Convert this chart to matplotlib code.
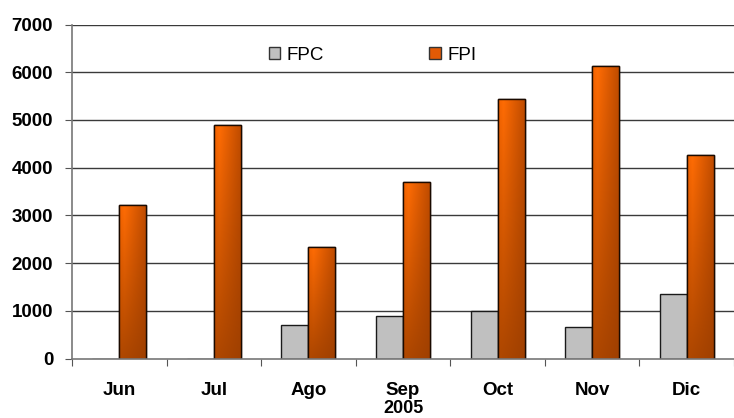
import numpy as np
import matplotlib
matplotlib.use("Agg")
import matplotlib.pyplot as plt

plt.rcParams['font.family'] = ['Liberation Sans', 'DejaVu Sans']

months = ["Jun", "Jul", "Ago", "Sep", "Oct", "Nov", "Dic"]
fpc = [0, 0, 700, 900, 1000, 670, 1345]
fpi = [3220, 4900, 2330, 3700, 5440, 6130, 4260]
yticks = [0, 1000, 2000, 3000, 4000, 5000, 6000, 7000]

fig = plt.figure(figsize=(7.34, 4.18), dpi=100)
ax = fig.add_axes([72 / 734, 1 - 358.5 / 418, 1 - 72 / 734, (358.5 - 24.5) / 418])

x = np.arange(len(months))
w = 0.285

for y in yticks[1:]:
    ax.axhline(y, color="#3a3a3a", lw=1.0, zorder=1)

bars_c = ax.bar(x - w / 2, fpc, width=w, color="#c0c0c0", edgecolor="#1a1a1a",
                lw=1.0, zorder=3, label="FPC")
bars_i = ax.bar(x + w / 2, fpi, width=w, color="#e35a05", edgecolor="#1a0a00",
                lw=1.0, zorder=3, label="FPI")

# shaded fill for the FPI columns: bright orange at the top left, brown at the bottom
def shade(nx=64, ny=64):
    hx = np.linspace(0, 1, nx)
    top_l = np.array([0xf0, 0x62, 0x00]) / 255
    top_hi = np.array([0xff, 0x6c, 0x04]) / 255
    top_r = np.array([0xc0, 0x4c, 0x00]) / 255
    bot_l = np.array([0xb0, 0x48, 0x00]) / 255
    bot_r = np.array([0xa0, 0x40, 0x00]) / 255
    top = np.where(hx[:, None] < 0.2,
                   top_l + (top_hi - top_l) * (hx[:, None] / 0.2),
                   top_hi + (top_r - top_hi) * ((hx[:, None] - 0.2) / 0.8))
    bot = bot_l + (bot_r - bot_l) * hx[:, None]
    t = np.linspace(0, 1, ny)[:, None, None]  # 0 bottom, 1 top
    return bot[None] * (1 - t) + top[None] * t

img = np.clip(shade(), 0, 1)
for b in bars_i:
    x0, y0 = b.get_x(), b.get_y()
    bw, bh = b.get_width(), b.get_height()
    im = ax.imshow(img, extent=[x0, x0 + bw, y0, y0 + bh], origin="lower",
                   aspect="auto", zorder=3.5, interpolation="bilinear")
    im.set_clip_path(b)
    ax.add_patch(plt.Rectangle((x0, y0), bw, bh, fill=False, ec="#1a0a00",
                               lw=1.0, zorder=4))
ax.set_aspect("auto")
ax.set_xlim(-0.5, len(months) - 0.5)
ax.set_ylim(0, 7000)

ax.set_yticks(yticks)
ax.set_yticklabels([str(v) for v in yticks], fontsize=13.5, fontweight="bold")
ax.set_xticks(np.arange(-0.5, len(months) + 0.5, 1.0))
ax.set_xticklabels([])
ax.set_xticks(x, minor=True)
ax.set_xticklabels(months, minor=True, fontsize=13.5, fontweight="bold")
ax.tick_params(axis="x", which="major", length=5, color="#555555", direction="out")
ax.tick_params(axis="x", which="minor", length=0, pad=17)
ax.tick_params(axis="y", length=5, color="#555555", pad=8.5)
ax.set_xlabel("2005", fontsize=13, fontweight="bold", labelpad=0.5)

for s in ["top", "right"]:
    ax.spines[s].set_visible(False)
for s in ["left", "bottom"]:
    ax.spines[s].set_color("#777777")
    ax.spines[s].set_linewidth(1.2)
    ax.spines[s].set_zorder(5)

leg = ax.legend(handles=[bars_c, bars_i], loc="upper left",
                bbox_to_anchor=((265 - 72) / 662, 1 - (43 - 24.5) / 334),
                ncol=2, frameon=True, fontsize=13.5, handlelength=0.62,
                handleheight=0.62, handletextpad=0.35, columnspacing=5.6,
                borderpad=0.2, borderaxespad=0)
leg.get_frame().set_facecolor("white")
leg.get_frame().set_edgecolor("none")
leg.get_frame().set_alpha(1)
leg.set_zorder(6)
for h in leg.legend_handles:
    h.set_edgecolor("#333333")

fig.savefig("out.png", dpi=100, facecolor="white")
